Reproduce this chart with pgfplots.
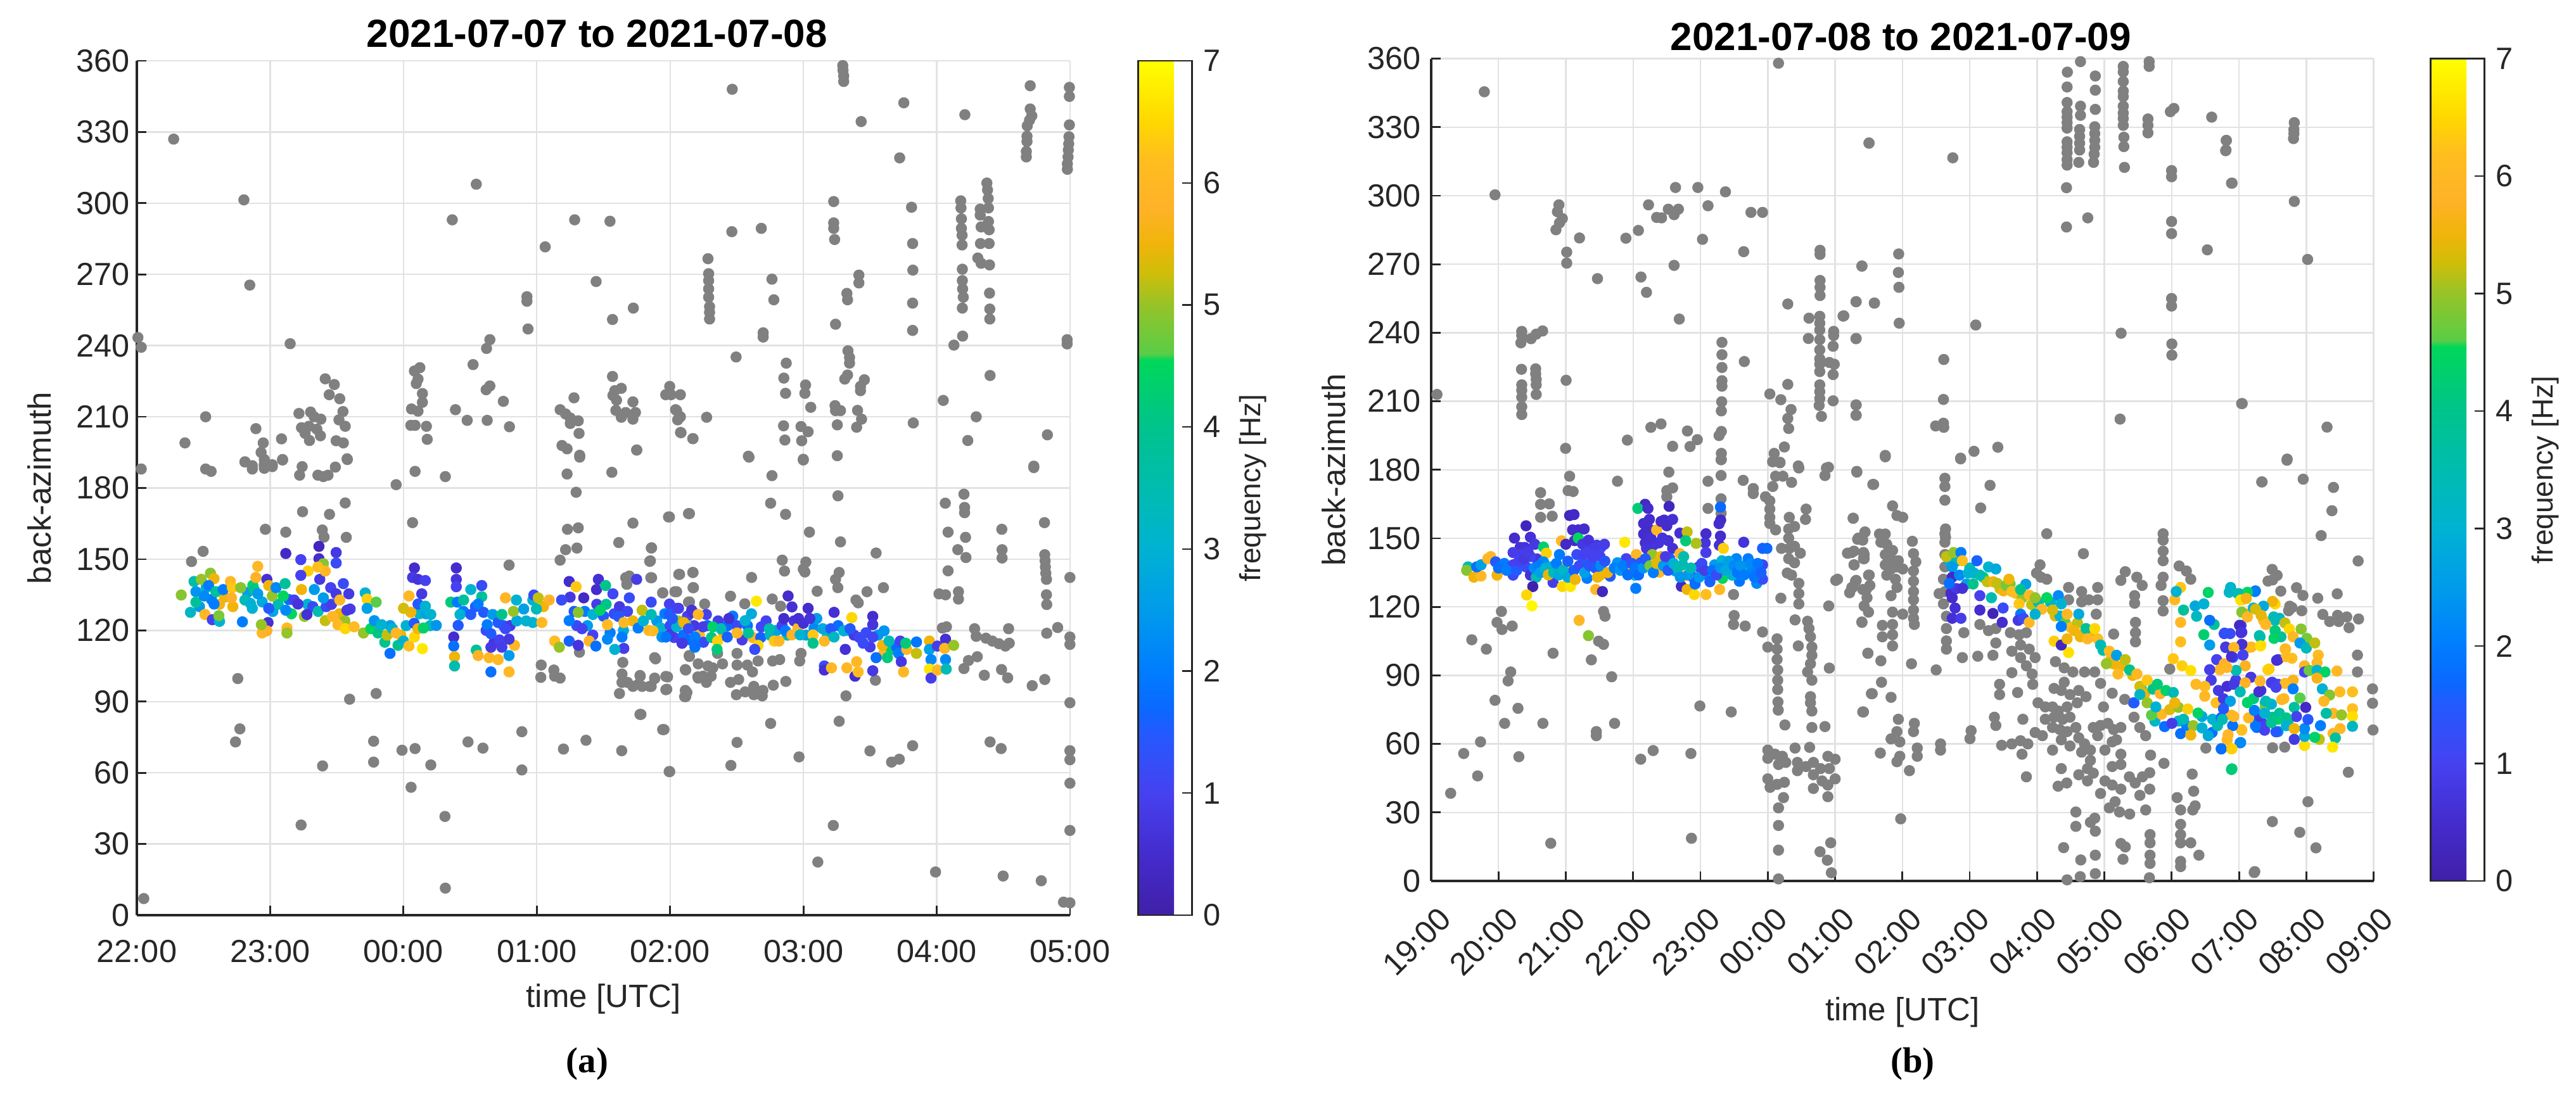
\documentclass[border=0pt]{standalone}
\usepackage{fontspec}
\setmainfont{Liberation Sans}
\newfontfamily\serifbold[BoldFont={Liberation Serif Bold}]{Liberation Serif}
\usepackage{pgfplots}
\pgfplotsset{compat=1.18}
\definecolor{axgray}{RGB}{38,38,38}
\definecolor{gridgray}{RGB}{226,226,226}
\definecolor{dotgray}{RGB}{128,128,128}

% 1 px of the reference = 0.25pt
\pgfplotsset{
  freqmap/.style={colormap={freq}{
    rgb255(0cm)=(64,32,168); rgb255(0.5cm)=(68,44,205); rgb255(1cm)=(70,65,240);
    rgb255(1.5cm)=(35,90,255); rgb255(1.7cm)=(10,105,255); rgb255(2cm)=(0,125,255);
    rgb255(2.5cm)=(0,155,235); rgb255(3cm)=(0,178,210); rgb255(3.5cm)=(0,188,175);
    rgb255(4cm)=(0,195,140); rgb255(4.55cm)=(0,215,90); rgb255(4.6cm)=(90,205,70);
    rgb255(5cm)=(150,195,40); rgb255(5.25cm)=(205,190,10); rgb255(5.5cm)=(240,180,10);
    rgb255(5.8cm)=(255,178,40); rgb255(6.2cm)=(255,190,30); rgb255(6.5cm)=(255,215,0);
    rgb255(7cm)=(255,255,0)}},
  panel/.style={
    scale only axis, clip=false, freqmap,
    point meta min=0, point meta max=7,
    axis lines*=left, ymin=0, ymax=360, ytick={0,30,...,360},
    grid=major, major grid style={gridgray, line width=0.6pt},
    tick align=inside, major tick length=3.75pt,
    tick style={axgray, line width=0.7pt},
    axis line style={axgray, line width=0.8pt},
    tick label style={font=\fontsize{12.6}{15}\selectfont, text=axgray},
    /pgf/number format/assume math mode=true,
    yticklabel style={inner sep=0pt, anchor=east},
    ylabel={back-azimuth}, xlabel={time [UTC]},
    label style={font=\fontsize{12.75}{15}\selectfont, text=axgray},
    y label style={at={(axis description cs:0,0.5)}, anchor=center, yshift=38.5pt},
    x label style={at={(axis description cs:0.5,0)}, anchor=base},
    title style={font=\fontsize{15.5}{18}\selectfont\bfseries, at={(axis description cs:0.5,1)}, anchor=base},
    colorbar,
  },
  fbar/.style={
    anchor=north west, at={(parent axis.north east)},
    width=21.25pt, scale only axis,
    ytick={0,...,7}, ytick pos=right, tick align=inside, major tick length=3.75pt,
    tick style={axgray, line width=0.6pt},
    axis line style={axgray, line width=0.7pt},
    /pgf/number format/assume math mode=true,
    yticklabel style={font=\fontsize{12.2}{15}\selectfont, text=axgray, inner sep=0pt, anchor=west, xshift=4.5pt},
    ylabel={frequency [Hz]},
    y label style={font=\fontsize{11.5}{14}\selectfont, text=axgray, at={(axis description cs:1,0.5)}, anchor=center, yshift=-24pt},
  },
  grayd/.style={only marks, mark=*, mark size=2pt, mark options={draw=dotgray, fill=dotgray}},
  freqd/.style={scatter, only marks, mark=*, mark size=2pt, scatter src=explicit,
    scatter/use mapped color={draw=mapped color, fill=mapped color}},
}

\begin{document}
\begin{tikzpicture}
\useasboundingbox (0,0) rectangle (1016.5pt,434.75pt);

% panel a
\begin{axis}[panel, at={(54pt,73.5pt)}, anchor=south west,
    width=368.25pt, height=337.25pt, xmin=0, xmax=7,
    xtick={0,...,7}, xticklabels={22:00,23:00,00:00,01:00,02:00,03:00,04:00,05:00},
    xticklabel style={anchor=base, yshift=-18.5pt},
    yticklabel style={xshift=-2.75pt},
    x label style={yshift=-36.25pt},
    title={2021-07-07 to 2021-07-08},
    title style={xshift=-2.5pt, yshift=-0.5pt},
    colorbar style={fbar, height=337.25pt, xshift=18.25pt},
]
\addplot[grayd] coordinates {
(.276,327)(.803,301.4)(.847,265.5)(2.546,308)(2.366,293)(3.284,293)(3.549,292.4)(3.063,281.6)(3.445,267)(2.926,260.6)(2.926,258.7)(3.724,255.8)(3.568,251)(2.934,247)(.008,243.4)(.033,239.3)(1.15,240.8)(2.648,242.5)(2.623,238.8)(2.522,232)
(1.413,226)(1.481,223.6)(1.443,219.3)(1.522,217.6)(1.546,212.2)(1.516,208.7)(1.563,206)(1.495,199.9)(1.549,199)(1.577,192.3)
(2.123,230.7)(2.082,229.3)(2.109,225.9)(2.096,224)(2.142,219.8)(2.142,216.1)(2.06,213.3)(2.109,212.4)(2.055,206.4)(2.087,206.4)(2.172,206)(2.178,200.5)
(.516,210)(.361,199)(.893,205)(.948,199)(1.085,200.7)(.932,195)(.811,191)(.866,189.4)(.956,192)(.956,189.4)(1.016,189.8)(1.093,192)
(1.216,211.4)(1.303,212)(1.33,210)(1.38,209)(1.235,205.4)(1.29,206)(1.35,204.8)(1.262,203)(1.377,202)(1.295,200)
(2.39,213)(2.478,208.5)(2.628,208.5)(2.749,216.5)(2.795,205.8)(2.62,221.4)(2.648,223)
(3.279,218)(3.175,213)(3.216,211.2)(3.251,209.5)(3.251,207.2)(3.311,208.3)(3.317,203)(3.189,197.9)(3.227,196.5)(3.322,193.8)
(3.568,227)(3.585,221)(3.634,222)(3.571,219)(3.598,217)(3.721,216.3)(3.593,212.7)(3.667,211.8)(3.74,211.8)(3.634,209.8)(3.721,209)(3.749,196)
(3.997,222.8)(3.967,219.3)(4.008,219.3)(4.077,219.3)(4.049,212.6)(4.077,210)(4.057,208.7)(4.082,203.3)(4.172,200.8)
(4.466,348)(5.295,358)(5.297,356)(5.302,353.6)(5.302,351.3)(5.753,342.3)(5.433,334.4)(5.722,319.1)(6.701,349.5)(6.211,337.3)
(6.995,348.8)(6.995,345)(6.995,333)(6.992,328)(6.99,325)(6.987,322.4)(6.985,319.5)(6.98,316.6)(6.98,314.3)
(6.701,339.7)(6.713,336.8)(6.696,335)(6.679,332.6)(6.677,328.2)(6.677,326)(6.672,321.8)(6.672,319.5)
(5.227,300.7)(5.811,298.3)(4.684,289.4)(4.463,288)(5.227,291.7)(5.227,289.4)(5.234,284.7)(5.819,283)(5.821,271.8)(5.819,257.9)(5.819,246.4)
(4.284,276.6)(4.289,270.3)(4.289,267.4)(4.289,263.9)(4.289,260.4)(4.296,256.4)(4.296,254)(4.296,251.2)
(4.764,268)(4.778,259.3)(4.698,245.4)(4.698,243.6)(5.241,249)(5.416,269.7)(5.416,266.4)(5.326,262)(5.331,259.3)
(6.18,301)(6.182,298)(6.185,293.4)(6.185,289.4)(6.19,286.5)(6.19,282.4)
(6.376,308.5)(6.381,305.6)(6.386,302)(6.388,298)(6.326,297.5)(6.326,295)(6.333,290)(6.388,292.3)(6.393,288.8)(6.328,283)(6.393,283)
(6.308,276.9)(6.333,274.7)(6.396,274)(6.192,272.2)(6.192,267.4)(6.194,263.9)(6.199,260.4)(6.192,255.8)(6.396,262.1)(6.398,255.4)(6.398,251.2)
(6.194,244)(6.129,240.2)(6.978,242.5)(6.978,240.7)
(4.495,235.2)(4.871,232.6)(4.853,226.3)(4.866,219.9)(5.016,223.4)(5.011,219.9)(5.055,214)
(5.334,237.8)(5.346,235)(5.346,232.6)(5.331,227.6)(5.31,225.9)(5.457,225.6)(5.428,222.8)(5.428,221)(6.4,227.4)(6.049,216.9)(6.296,210)
(5.237,214.7)(5.241,212.6)(5.278,212.6)(5.406,212.7)(5.436,209)(5.399,205.6)(5.254,206.6)
(4.851,206.2)(4.861,200.2)(4.982,205.9)(5.035,203.7)(4.987,199.9)(5.824,207.4)(6.83,202.4)(6.233,200)(4.587,193.4)(4.999,192.1)(5.254,193.6)(4.078,203.4)(4.17,200.8)(4.274,209.8)(4.041,213)(3.75,196)(6.728,189.2)
(.033,188)(.516,188)(.557,187)(.811,191)(.866,188)(.956,190)(.956,188.3)(1.016,189)(1.093,191.8)
(1.221,185.4)(1.24,189)(1.358,185.4)(1.399,184.8)(1.434,185.4)(1.489,188.8)(1.579,192)
(2.087,187)(2.314,184.8)(1.945,181.4)(2.068,165.4)(1.563,173.7)(1.445,168.9)(1.243,170)(.964,162.6)(1.117,161.4)(1.391,162.3)(1.404,159.3)(1.571,159.2)(.497,153.3)(.41,149)
(3.227,185.9)(3.322,193)(3.563,186.6)(3.295,178.2)(3.23,162.6)(3.311,163.2)(3.216,154)(3.301,154.7)(3.175,149.6)(2.792,147.5)
(3.721,165.2)(3.615,157)(3.995,167.8)(4.145,169.2)(3.861,154.8)(3.852,149.3)(3.861,142.2)(3.667,142.2)(3.694,142.9)(3.675,139.4)(4.071,143.6)(4.172,144.4)(3.945,135.8)(4.049,136.3)(4.172,138)(4.145,132)
(.757,99.7)(.773,78.5)(.74,73)(1.596,91)(1.795,93.4)(1.776,73.3)(1.776,64.5)(1.393,62.9)(1.989,69.5)(2.087,70.2)(2.205,63.3)(2.057,53.9)(2.311,41.6)(2.314,11.4)(1.232,38)(.052,7)
(2.484,73)(2.596,70.4)(2.888,77.3)(2.888,61.2)(3.2,70)(3.369,73.7)(3.637,69.3)(3.781,84.6)(3.954,78.2)(3.997,60.5)
(3.033,105.4)(3.03,100.2)(3.128,103.3)(3.134,100.7)(3.175,99.9)(3.32,110.8)(3.645,106.5)(3.891,108)(3.639,101.6)(3.68,98.1)(3.639,98.1)(3.721,96.4)(3.776,100.7)(3.79,96.4)(3.885,99.7)(3.858,96.4)(3.62,93.4)(3.981,100.4)(3.975,95.2)(4.117,103.3)(4.117,92.1)(4.126,93.8)(4.145,109)(4.208,100.4)
(6.728,188.6)(4.592,193)(4.999,191.8)(4.764,185.2)(4.754,173.6)(4.866,168.9)(5.259,176.7)(5.278,157.3)(5.045,161.4)(6.064,173.6)
(6.204,177.4)(6.209,171.8)(6.209,169.6)(6.085,161.4)(6.216,159.2)(6.158,154)(6.219,150.7)(6.085,145.1)
(6.488,162.6)(6.49,154)(6.49,150.5)(6.808,165.4)(6.81,151.9)(6.813,149.3)(6.815,146.7)(6.818,144.1)(6.823,141.5)(6.823,135)(6.825,130.9)(6.999,142.3)
(5.545,152.6)(5.6,138)(5.477,136.3)(5.394,132.8)(5.411,131.6)(5.268,144.4)(5.241,141.5)(5.258,138)(5.103,136.5)(5.018,148.8)(4.999,145.8)(5.011,144.6)(4.858,145)(4.841,149.6)
(4.611,142.3)(4.453,134.4)(4.56,131.2)(4.766,133.2)(4.829,130.2)(3.944,135.8)(4.036,136.3)(4.065,143.6)(4.17,144.4)(4.175,138)(3.855,142.2)(3.859,154.7)(3.847,149.1)(3.988,167.8)(4.138,169.2)
(4.138,131.9)(4.259,131.1)(6.017,135.4)(6.066,135)(6.163,136.3)(6.163,133.2)(6.042,121)(6.073,121.5)
(6.284,120.7)(6.296,117.5)(6.369,116.7)(6.417,115.5)(6.466,114.4)(6.515,113.4)(6.544,114.6)(6.539,120.7)(6.825,118.8)(6.907,121.2)(6.999,117.2)(6.999,114.1)(6.999,89.5)(6.999,69.3)(6.999,65.5)(6.999,55.6)(6.999,35.7)(6.951,5.5)(6.999,5.2)
(3.884,108.5)(4.143,109.4)(4.211,105.9)(4.114,103.5)(3.968,100.6)(3.968,95)(4.114,94.7)(4.109,92.1)(3.847,96.4)(3.884,99.9)(3.774,101)(3.762,97.3)(3.774,84.6)(3.944,78.2)(3.993,60.5)
(4.284,105)(4.32,104.2)(4.247,100.7)(4.308,100.7)(4.272,98.1)(4.211,99.9)(4.356,110.3)(4.393,105.9)(4.502,110.3)(4.502,105.4)(4.453,98.1)(4.514,99.3)(4.497,92.9)(4.563,94.1)(4.628,96.4)(4.628,92.9)(4.696,94.7)(4.691,92.4)(4.579,105.4)(4.66,107.1)(4.618,102.5)(4.769,107.1)(4.822,107.7)(4.774,96.9)(4.868,98.5)(4.982,110.3)(4.972,107.1)
(5.319,92.4)(5.54,99)(6.204,103.9)(6.238,107.3)(6.304,108.9)(6.357,101.1)(6.486,103.5)(6.532,100)(6.716,96.7)(6.81,99.3)
(5.268,81.7)(4.754,80.8)(4.502,72.8)(4.456,63.1)(4.967,66.7)(5.499,69.2)(5.661,64.5)(5.719,65.7)(5.819,71.4)(6.4,73)(6.483,70.2)(5.224,37.8)(5.108,22.4)(5.991,18.2)(6.498,16.5)(6.784,14.5)
};
\addplot[freqd] coordinates {
(.47,130)[2.5](.52,138)[3](.56,133)[2](.62,131)[5.6](.66,134)[5.5](.72,130)[5.5](.83,136)[2.6](.87,139)[4.4](.94,132)[2.8](1.02,128)[2.7](1.06,131)[3.5](1.14,133)[1.8](1.16,127)[4.5](1.28,131)[3](1.32,130)[1.2](1.36,128)[3.5](1.42,130)[1.2](1.46,131)[.9](1.52,127)[5.5](1.56,124)[5](1.6,129)[.9](1.78,122)[3](1.86,115)[4](1.9,122)[2.5](1.98,118)[5.5](2.02,122)[3](2.08,123)[1.5](2.12,127)[3.2](2.17,127)[2.6](2.2,122)[3.2]
(2.45,128)[2](2.54,130)[1.5](2.62,120)[1.2](2.68,115)[.7](2.72,116)[1](2.75,122)[1.5](2.8,122)[.8](2.85,124)[2.8](2.92,124)[3](3.05,130)[5.5]
(3.25,134)[.8](3.28,128)[1.5](3.3,122)[1.2](3.36,128)[2](3.38,122)[2.5](3.42,118)[1](3.45,131)[.9](3.5,126)[1.5](3.52,131)[4](3.55,119)[2](3.58,127)[1.2](3.62,130)[.8](3.65,120)[2.8](3.68,128)[1.1](3.72,124)[5.5](3.76,121)[2](3.8,124)[3](3.84,120)[6](3.9,124)[2.5](3.93,121)[3](3.96,127)[2](4.0,122)[1.2](4.03,117)[1](4.06,124)[5](4.1,118)[1.8](4.13,126)[1](4.15,116)[1.7](4.18,122)[.8](4.22,118)[6](4.25,115)[1.2](4.28,122)[1.7](4.31,117)[4](4.36,124)[.9](4.4,119)[5.5](4.43,122)[1.7](4.47,126)[2](4.5,122)[1.2](4.54,116)[.9](4.58,122)[1.8](4.61,127)[2.8](4.62,117)[5.8](4.68,117)[1.6](4.72,124)[1](4.75,118)[3.2](4.8,120)[2.7](4.84,122)[1](4.88,118)[3.6](4.93,124)[.7](4.96,121)[6](5.0,123)[.6](5.02,118)[2.6](5.08,121)[2.2](5.1,125)[2.5](5.18,118)[3.2](5.26,122)[1.8](5.33,120)[3](5.38,118)[.8](5.42,117)[1.1](5.47,119)[1.2](5.5,113)[.9](5.56,118)[2.4](5.6,110)[6](5.66,112)[4.2](5.7,113)[1.7]
};
\addplot[freqd] coordinates {
(.333,134.9)[4.9](.402,127.6)[3.2](.429,140.6)[3.6](.443,136.3)[2.4](.443,131.9)[3.8](.484,141.5)[5](.511,126.7)[6](.566,124.5)[1](.62,123.8)[3](.615,126.2)[4.8](.552,144.1)[4.9](.579,141.8)[5.5](.538,138.9)[2](.593,136.3)[3.8](.579,131.1)[2](.505,134.5)[2.2](.648,137.2)[2](.702,140.6)[6](.716,138)[6.3](.71,133.7)[5.8](.779,138)[4.9](.792,123.6)[2]
(.811,132.8)[3.4](.852,131.4)[3](.88,137.2)[4](.893,142.3)[5.8](.907,147)[6](.866,129.3)[3](.907,135.4)[2.5](.975,141.5)[.6](.989,138.9)[5.5](1.016,134.5)[5](.989,129.3)[1.5](.984,123.3)[.6](.94,118.9)[6](.975,119.8)[5.8](.934,122.4)[5](1.044,138)[2.2](1.112,139.7)[3.8](1.098,134.5)[4.5](1.126,121)[6](1.126,118.9)[5](1.117,128.5)[2.2](1.117,152.4)[.4]
(1.23,149.8)[1](1.18,132.8)[1](1.208,131.1)[.7](1.235,137.2)[5.5](1.284,145)[6.4](1.23,143.2)[1](1.257,125.9)[5](1.276,126.7)[.6](1.331,137.2)[2.5](1.372,141.5)[.8](1.366,150.2)[.5](1.366,155.4)[.3](1.399,148.1)[4.9](1.413,145)[5.9](1.358,146.7)[6.2](1.495,152.8)[.8](1.495,148.4)[1.2](1.399,133.7)[2.5](1.454,138)[1](1.549,139.7)[1.2](1.495,135.4)[.8](1.522,132.8)[6](1.576,128.5)[.8](1.59,135.4)[.8]
(1.413,124.1)[5.2](1.467,125.9)[6](1.508,122.4)[6](1.563,120.7)[6.5](1.63,121.5)[6.1](1.713,135.8)[3](1.727,133.2)[6.4](1.795,131.9)[4.6](1.727,129.3)[2.6](1.70,118.9)[5](1.754,120.7)[4.5](1.781,124.1)[2.4](1.809,118.9)[4](1.836,122.4)[3](1.877,118)[5.2](1.918,120.7)[3](1.899,110.3)[1.8](1.945,118.9)[6](1.959,113.7)[4](2,115.5)[3](2.041,113.4)[6.2](2.082,117.2)[6.5](2.142,112.3)[6.7](2.109,120.7)[5.5](2.15,121)[4.4](2.246,122.1)[2.4](2.205,126.7)[3](2.055,127.6)[5.5](2,129.3)[5.3]
(2.082,146.3)[.5](2.068,142.3)[.8](2.109,141.5)[.7](2.164,141)[1](2.137,135.4)[.8](2.041,134.5)[6](2.109,131.1)[1.5](2.164,130.2)[3]
(2.396,146.3)[.5](2.396,141.5)[.7](2.396,138.4)[1](2.355,131.9)[4.2](2.404,131.9)[2](2.451,132.8)[3.8](2.424,126.7)[3](2.41,122.1)[1.5](2.377,117.2)[.5](2.377,113.4)[1.8](2.383,108.9)[5.5](2.383,105)[3.5](2.505,137.2)[3](2.587,138.9)[1.2](2.587,134.2)[3.8](2.505,126.7)[1.5](2.56,131.1)[2](2.601,127.6)[1.5](2.669,126.7)[2.5](2.628,122.4)[2](2.71,123.3)[1.5](2.738,126.7)[4](2.765,133.7)[5.9](2.825,128)[5](2.847,132.8)[3](2.902,129)[2.6](2.97,132.8)[3](2.978,134.9)[1.2](2.997,129)[3.4](2.97,123.3)[3](3.038,123.3)[6](3.011,133.7)[5.2](3.093,132.8)[5.8]
(2.546,111.7)[3.8](2.56,109.4)[5.8](2.642,108.5)[6](2.656,102.5)[1.8](2.71,107.7)[6](2.792,102.5)[6](2.792,109.4)[2.5](2.833,113.7)[6](2.656,112.9)[.8](2.738,112.9)[.9](2.765,120.7)[1.2](2.792,116.3)[.8](2.656,118.6)[1.5](3.134,115.5)[6.2](3.169,112.9)[5]
(3.243,140.6)[.5](3.186,132.8)[1.2](3.295,138.4)[6.3](3.352,133.7)[.4](3.462,141.5)[.6](3.448,137.2)[.5](3.516,138.9)[4](3.571,135.4)[1.1](3.749,141.5)[.9](3.694,133.7)[1.2](3.243,124.1)[2](3.311,127.6)[4.9](3.339,120.7)[1](3.421,126.7)[3](3.475,128.5)[4.4](3.53,122.4)[6.1](3.243,115.5)[1.6](3.311,113.7)[.7](3.393,115.5)[5.9](3.443,113.4)[1.8](3.53,116.3)[2.2](3.639,117.2)[2](3.653,112.4)[.9](3.585,112)[3](3.612,125.9)[1.5](3.653,123.3)[6](3.79,128.5)[5.2](3.858,131.9)[1.2](3.858,126.7)[3.4](3.871,119.8)[6.1](3.939,117.2)[2.4](3.995,131.1)[1](3.995,126.7)[1.6](3.995,118.1)[.8](4.063,129.3)[.8](4.09,114.6)[.9](4.186,112.9)[2](4.172,127.6)[.5](4.117,122.4)[4.6](4.049,121.5)[3]
(4.053,129.3)[1](4.017,125)[1.5](3.968,117.2)[1.9](4.162,128.5)[.7](4.272,126.7)[1](4.102,123.3)[5.5](4.211,126.7)[6](4.138,120.7)[1.2](4.09,114.6)[.8](4.187,117.2)[2](4.187,113.7)[1.8](4.247,121.5)[.9](4.32,121.5)[4.4](4.356,115.5)[6.4](4.352,112)[4.2](4.381,120.7)[3.5](4.441,125)[.6](4.429,117.2)[1.6](4.502,118.9)[6](4.563,124.1)[3](4.587,118.9)[3.8](4.66,113.7)[6.5](4.635,112)[1.2](4.684,121.5)[1.1](4.744,120.7)[3.5](4.781,115.5)[6.3](4.817,115.5)[6](4.853,125)[.5](4.885,134.5)[.5](4.914,129.9)[.6](4.647,132.3)[6.7](4.866,119.8)[2](4.914,118.1)[5.8](4.963,125)[.6](4.975,118.1)[3](5.035,129.3)[.5](5.048,125)[.7](5.072,118.1)[6.3](5.072,114.6)[4](5.157,115.5)[6](5.145,120.7)[2.8](5.205,120.7)[1.5](5.23,117.2)[3.2](5.23,127.6)[.6]
(5.157,105)[1.2](5.157,103.3)[.6](5.21,104.2)[6](5.326,104.2)[6](5.302,119.8)[3](5.314,112)[.6](5.363,125.4)[6.5](5.35,120.7)[1.5](5.399,106.8)[6](5.387,100.7)[.5](5.411,102.5)[6.1](5.448,114.6)[1.2](5.52,125.9)[.5](5.52,122.4)[.7](5.52,117.2)[1.1](5.545,108.5)[1.8](5.52,103)[.8](5.593,113.7)[5.5](5.605,119.8)[2.4](5.642,115.5)[3.4](5.63,108.5)[4.2](5.726,115.5)[1](5.714,110.3)[2](5.734,106.8)[.8](5.751,102.5)[6](5.775,112)[5.9](5.768,114.6)[4.2](5.848,115.1)[1.9](5.848,110.3)[5.2](5.945,115.5)[5.5](5.945,112)[2.6](5.957,107.7)[2.2](5.945,103.7)[6.7](5.957,99.9)[.9](6.005,103.3)[6](6.005,113.4)[.9](6.066,116.3)[.6](6.059,112.4)[6](6.066,107.7)[2.2](6.071,103.7)[3.4](6.127,113.7)[5]
};
\end{axis}

% panel b
\begin{axis}[panel, at={(564.75pt,87pt)}, anchor=south west,
    width=371.9pt, height=324.6pt, xmin=0, xmax=14,
    xtick={0,...,14}, xticklabels={19:00,20:00,21:00,22:00,23:00,00:00,01:00,02:00,03:00,04:00,05:00,06:00,07:00,08:00,09:00},
    xticklabel style={xshift=-5.75pt, yshift=-24pt, rotate=45, anchor=center},
    yticklabel style={xshift=-4pt},
    x label style={yshift=-55pt},
    title={2021-07-08 to 2021-07-09},
    title style={xshift=-0.6pt, yshift=-2.6pt},
    colorbar style={fbar, height=324.6pt, xshift=13.85pt},
]
\addplot[grayd] coordinates {
(.789,345.5)(.948,300.4)(5.159,358)(6.504,323)(3.629,303.6)(3.961,303.6)(4.371,301.7)(3.228,296)(3.522,294.1)(3.672,294.1)(3.608,291.7)(3.349,290.5)(3.422,290.3)(4.112,295.6)(4.75,292.7)(4.922,292.7)
(1.897,296)(1.875,293)(1.948,290)(1.905,288.1)(1.853,285.1)(2.203,281.5)(2.013,275.3)(2.013,270.5)(2.47,263.7)(2.892,281.4)(3.078,284.8)(4.03,280.9)(4.642,275.5)(3.608,269.5)(3.116,264.4)(3.198,257.7)(3.685,246)
(5.776,276.1)(5.776,274.3)(5.776,262.9)(5.776,259.9)(5.776,256.3)(5.297,252.6)(6.397,269.2)(6.31,253.6)(6.582,253)(5.612,246.4)(5.772,247.2)(5.772,244.2)(5.772,241.2)(6.129,247.4)(5.978,240.6)(5.978,238.8)(5.97,234.1)(5.603,237.5)(5.772,237)(5.772,232.5)(6.31,237.4)
(5.772,228.6)(5.772,226.2)(5.772,223)(5.914,227)(5.987,226.2)(5.97,221.7)(5.772,217.2)(5.772,214.2)(5.772,211.2)(5.763,208.2)(5.97,210.2)(5.797,203.4)(6.31,208.4)(6.31,203.9)
(1.345,240.6)(1.345,238.8)(1.332,235.6)(1.483,237.4)(1.56,239.4)(1.655,240.8)(1.341,224)(1.552,224.2)(1.552,222)(1.56,219.6)(1.56,217.2)(1.56,213)(1.345,217.2)(1.345,214.8)(1.345,211.8)(1.345,207.6)(1.345,204.2)(.086,213)(2.004,219.2)(1.996,189.4)
(4.319,235.8)(4.319,230.4)(4.319,224.8)(4.319,219)(4.319,216.6)(4.315,209.8)(4.31,205.8)(4.31,196.8)(4.276,195)(4.31,187.2)(4.31,184.5)(4.651,227.4)(5.03,213.2)(5.194,210.7)(5.297,217.4)(5.345,206.4)(5.297,202.5)(5.31,198.1)(5.246,190)(5.095,187.2)(5.073,183.6)(5.181,183.3)
(3.263,198.6)(3.414,200.1)(2.914,193)(3.806,197)(3.953,193.2)(3.845,190.2)(3.586,190.3)(5.453,181.7)(5.901,181.1)
(6.503,323.1)(7.748,316.6)(6.399,269.2)(6.944,274.5)(6.94,266.4)(6.948,259.9)(6.313,253.6)(6.585,253)(6.118,247.3)(6.952,244.2)(6.313,237.5)(7.614,228.3)(8.089,243.4)(7.609,210.8)(6.313,208.4)(6.313,203.9)(7.493,199.2)(7.609,200.4)(7.614,198.6)(6.745,186.3)(7.864,185.1)(8.063,188.1)(8.417,189.9)
(9.645,358.7)(9.45,354.1)(9.446,347.6)(9.446,340.8)(9.446,336.8)(9.446,334.4)(9.446,332)(9.446,329.6)(9.446,323.6)(9.446,321.2)(9.446,318.8)(9.446,315.8)(9.446,313.4)(9.437,303.5)(9.437,286.3)(9.753,290.3)
(9.645,339.2)(9.645,335.2)(9.632,329)(9.632,326)(9.632,323)(9.632,320)(9.619,314.6)(9.865,352.4)(9.865,346.2)(9.865,337.8)(9.857,330.2)(9.857,327.2)(9.857,324.2)(9.857,321.2)(9.848,318.2)(9.839,314.6)
(10.28,356.6)(10.28,354.2)(10.28,350)(10.28,345.8)(10.28,343.4)(10.28,339.2)(10.28,336.2)(10.28,333.8)(10.28,330.8)(10.289,325.6)(10.289,321.5)(10.298,312.4)
(10.665,358.7)(10.665,356.6)(10.647,333.6)(10.647,330.8)(10.647,327.5)(11.032,338.2)(10.98,336.8)(10.998,311)(10.998,308.3)(10.998,288.7)(10.998,283.4)(10.998,255)(10.998,251.7)(11.002,235.1)(11.002,230.2)
(11.594,334.4)(11.81,324.2)(11.801,319.7)(11.888,305.5)(11.529,276.3)(10.248,239.8)(12.039,209)(10.233,202.2)
(11.812,324.2)(11.806,320)(11.897,305.5)(12.821,332)(12.815,329)(12.815,327.2)(12.809,325)(12.821,297.5)(13.019,272.1)(12.047,209)(13.307,198.7)(12.715,184.7)
(2.056,177.2)(2.034,170.9)(2.108,170.5)(2.767,175)(1.625,170)(1.625,164.9)(1.754,165.1)(1.625,159.2)(1.797,159.7)
(3.53,179)(3.5,170.9)(3.586,172.1)(3.5,168.2)(4.306,184.4)(4.306,177.5)(4.112,175)(4.634,175.4)(4.784,171.8)(4.784,169.6)(4.112,163.1)(4.306,167.3)(4.306,161)
(4.966,168.2)(5.03,166.4)(5.03,162.8)(5.03,159.2)(5.03,156.5)(5.116,153.7)(5.073,183.5)(5.181,183.1)(5.116,177.2)(5.224,177.2)(5.073,172.7)(5.353,174.5)(5.461,180.8)(5.871,180.8)(5.849,177.5)(6.323,179)(6.56,173.6)
(5.569,162.8)(5.56,158.3)(5.319,159.2)(5.31,154.1)(5.397,155.2)(5.31,150.1)(5.319,145.6)(5.397,146.5)(5.483,143.5)(5.203,145.6)(5.31,141.1)(5.397,139.3)(5.289,134.8)(5.353,133.9)(5.461,130.3)(5.461,125.8)(5.461,121.3)(5.194,123.8)(6.009,131.6)(5.905,120.4)
(6.267,158.8)(6.444,152.7)(6.345,150.1)(6.41,149.2)(6.194,143.5)(6.28,144.4)(6.431,142.9)(6.431,141.1)(6.28,138.4)(6.496,133.9)(6.302,131.2)(6.259,128.5)(6.216,126.2)(6.41,127.6)(6.517,129.4)(6.474,124)(6.431,120.4)(6.496,117.7)(6.397,113.4)(6.487,99.7)(6.539,82)(6.41,74)(5.914,93.2)
(1.043,118)(.978,113.2)(1.052,110.1)(1.203,111.6)(.603,105.6)(.819,101.5)(1.81,99.7)(1.181,91.5)(1.142,87.6)(.948,79.1)(1.289,75.6)(1.091,69)(1.659,69)(.733,60.9)(.483,55.8)(1.302,54.4)(.69,46)(.289,38.4)(1.776,16.5)
(2.56,118)(2.582,115.9)(2.487,105)(2.56,103.6)(2.379,96.8)(2.681,89.4)(2.724,69)(2.453,65.4)(2.453,63.6)(3.112,53.3)(3.297,57.1)(3.858,55.8)(3.866,18.7)(3.991,76.6)(4.457,74)
(4.491,125.4)(4.5,116.2)(4.491,112.3)(4.664,111.6)(4.922,109)
(5,102.4)(5.138,106)(5.138,101.5)(5.138,97)(5.147,92.4)(5.147,87.9)(5.147,83.8)(5.151,78.4)(5.155,74.8)(5.254,68.3)(5.405,114.3)(5.453,102.9)
(5.591,113.7)(5.612,110.5)(5.634,106.9)(5.655,102.4)(5.655,98.8)(5.634,95.1)(5.591,91.5)(5.655,87.9)(5.634,80.7)(5.634,78)(5.655,74.4)(5.655,67.2)(5.849,67.6)(5.621,58.5)(5.405,58.2)
(5,57.3)(5,53.7)(5.108,55.5)(5.216,54.6)(5.159,51)(5.267,51.9)(5.246,43.2)(5.138,42.3)(5,44.7)(5.034,41)(5.233,36.5)(5.159,32)(5.159,24.3)(5.159,13.5)(5.159,.9)
(5.44,51.9)(5.44,48.3)(5.569,50.1)(5.677,51.9)(5.677,46.5)(5.784,49.2)(5.677,40.5)(5.806,43.8)(5.892,54.6)(6,53.3)(5.914,49.2)(6,44.7)(5.892,42)(5.892,36.9)(5.935,16.7)(5.776,12.8)(5.884,9.1)(5.944,3.6)
(6.321,179.3)(6.572,173.6)(6.745,185.7)(7.864,184.8)(8.301,173.2)(8.162,163.3)(7.631,176.3)(7.631,172.7)(7.631,166.7)(7.64,154.1)(7.64,150.5)(6.853,164.2)(6.918,160)(7.004,159.2)(6.27,158.8)
(6.443,152.8)(6.334,149.6)(6.421,143.8)(6.421,141.1)(6.248,143.8)(6.183,143.5)(6.283,138.4)(6.036,132.1)(6.507,133.9)(6.313,131.6)(6.248,128.5)(6.464,127.6)(6.399,113.2)(6.486,99.7)(6.68,96.4)(6.689,87)(6.551,82)(6.831,80.4)(6.421,74)(7.134,95.1)(7.501,92.4)
(6.659,151.9)(6.745,151.9)(6.68,148.3)(6.767,147.4)(6.853,144.7)(6.745,142.9)(6.831,141.1)(6.939,140.2)(6.745,138.4)(6.831,136.6)(6.918,137.5)(7.004,136.6)(6.767,133.9)(6.896,132.1)(6.918,128.5)(6.831,124.9)(6.853,117.7)(7.004,116.8)(6.702,111.9)(6.853,112.3)(6.702,106.9)(6.853,107.8)(6.853,102.9)
(7.147,148.7)(7.164,143.3)(7.199,139.7)(7.164,135.7)(7.164,131.2)(7.164,126.7)(7.164,123.1)(7.164,118.6)(7.164,115)(7.177,112.3)
(7.631,152)(7.631,148.3)(7.631,142.9)(7.631,137.5)(7.609,132.1)(7.631,126.7)(7.609,121.3)(7.653,115.9)(7.653,110.5)(7.653,105.1)(7.653,101.5)(7.545,125.8)
(7.89,97.8)(8.119,98.4)(8.344,98.8)(7.912,108.7)(8.15,112.3)(8.387,110.5)(8.279,109.6)(8.387,104.2)(8.603,108.7)(8.733,107.8)(8.841,108.7)(8.625,100.6)
(8.755,103.3)(8.884,101.5)(8.755,97.8)(8.971,97.8)(8.841,94.2)(8.927,90.6)(8.936,86.1)(8.625,91.2)
(8.443,86.1)(8.443,81.6)(8.711,82.5)(8.366,71.7)(8.387,68.1)(8.789,70.8)(8.474,59.4)(8.625,60)(8.754,61.4)(8.863,60)(8.776,55.5)(8.841,45.6)(8.02,65.8)(8.003,62.3)(7.566,60)(7.566,57.3)(6.672,56)(6.831,62.2)(6.918,65.4)(6.939,70.8)(6.961,60.9)(6.961,54.6)(6.918,52.2)(7.104,48.3)(7.177,69)(7.164,65.4)(7.22,58.2)(7.22,54.6)(6.974,27.2)
(9.044,138.4)(8.992,134.8)(9.057,133)(9.144,132.1)(9.144,152)(9.688,143.3)(9.468,128.5)(9.468,123.1)(9.662,126.7)(9.662,122.2)(9.9,128.5)(9.9,123.1)(9.879,116.8)(9.77,123.1)
(10.31,135.4)(10.245,131.6)(10.482,133)(10.561,129.4)(10.449,124.9)(10.449,121.6)(10.462,113.2)(10.462,108.7)(10.462,104.7)(10.137,108.1)(10.116,82.2)(10.302,79.5)(9.986,76.2)(9.943,86.5)
(10.872,152)(10.872,149.2)(10.872,144.4)(10.872,140.2)(10.872,133)(10.842,129.4)(10.872,122.7)(10.872,118.2)(10.971,92.8)(11.11,137.9)(11.218,135.7)(11.283,132.1)
(10.885,51.5)(10.686,55.1)(11.304,46.8)(11.326,39.3)(11.08,36.5)(11.132,31.1)(11.348,32.9)(11.313,31.1)(11.132,24.8)(11.132,20.3)(11.132,16.7)(11.283,16.7)(11.404,11.3)(11.132,8.6)(11.132,6.3)
(10.431,78)(10.44,71.7)(10.526,67.2)(10.613,63.6)(10.245,67.2)(10.181,61.8)
(9.273,96)(9.403,93.3)(9.403,87)(9.532,91.5)(9.705,91.5)(9.856,91.5)(9.252,84.3)(9.36,83.4)(9.489,81.6)(9.619,83.4)(9.727,80.7)(9.597,78)(9.014,78)(9.122,76.2)(9.23,76.2)(9.316,74.4)(9.446,76.2)(9.122,70.8)(9.252,71.7)(9.381,70.8)(9.489,71.7)(9.23,67.2)(9.338,66.3)(9.446,65.4)(9.576,67.2)(8.971,65)(9.079,63.6)(9.36,61.8)(9.619,62.7)(9.705,60)(9.489,59.1)(9.662,56.4)(9.792,57.3)(9.23,57.3)(9.792,52.8)(10.008,57.3)(9.749,49.2)(9.36,49.2)(9.619,46.5)(9.749,43.8)(9.835,47.2)(9.312,41.5)(9.441,42.9)(9.943,68.1)(9.835,67.2)(10.051,69)(10.137,66.3)(9.9,63.6)(10.116,60.9)(10.245,55.5)(10.245,51)(10.116,50.1)(10.008,43.8)(10.116,42)(10.245,40.2)(9.943,38.3)(10.371,45.6)(10.457,42.9)(10.565,45.6)(10.673,47.4)(10.527,37.5)(10.673,40.2)(10.073,32)(10.159,34.7)(10.224,30.2)(10.375,29.3)(10.613,31.1)
(9.576,30.2)(9.576,23.9)(9.857,27.5)(9.792,25.7)(9.865,21.8)(9.394,14.6)(10.245,16.4)(10.31,14.9)(10.276,9.5)(9.865,11.3)(9.649,9.2)(9.865,3.2)(9.641,1.9)(9.446,.5)
(10.678,20.3)(10.678,16.7)(10.678,11.3)(10.678,7.7)(10.669,1.4)
(11.507,58.2)(12.225,3.7)(12.337,174.7)
(12.712,184.2)(12.342,174.7)(12.953,175.9)(13.403,172.3)(13.38,162.1)(13.22,151.2)(13.769,140.1)(12.492,136.4)(12.566,133.8)(12.498,131.8)(12.431,131.3)(12.62,126.9)(12.854,128.4)(12.949,125)(13.169,123.8)(13.458,125.7)(12.753,120.3)(12.786,119.7)(12.736,118.3)(12.932,118.3)(13.244,116.7)(13.346,113.6)(13.464,116.3)(13.481,113.6)(13.6,115.6)(13.634,110.9)(13.776,114.7)(13.759,98.9)(13.759,91.5)(13.983,84.1)(13.983,77.8)(13.99,66.1)(12.498,58.3)(12.678,58.6)(13.624,47.6)(13.024,34.7)(12.495,26)(12.902,21.3)(13.142,14.5)(12.234,4.1)
};
\addplot[freqd] coordinates {
(1.32,146)[.6](1.39,146)[.7](1.57,141)[.8](2.13,149)[.5](2.38,145)[.8](2.46,147)[.8](2.52,146)[1.2](3.2,155)[.5](3.18,148)[.6](3.24,154)[.5](3.3,147)[.7](3.38,148)[.7](3.46,158)[.5](3.52,149)[.6](4.07,148)[.7](4.28,147)[.6](4.3,158)[.4]
(7.7,140)[3](7.8,140)[3.4](7.72,126)[.5](7.8,128)[.8](7.95,130)[2.6](8.0,137)[3.4](8.05,130)[4](8.2,133)[4.5](8.26,131)[5.2](8.35,131)[5.5](8.45,128)[5.3](8.5,127)[5.6](8.6,130)[4.8](8.68,126)[6](8.78,124)[5](8.92,121)[5.2](9.02,122)[3.3](9.07,119)[6](9.2,122)[3](9.27,116)[5.4](9.34,116)[3](9.42,113)[4.6](9.5,111)[6](9.6,113)[5.2](9.68,108)[5.8](9.8,108)[5.5](9.9,106)[6.1](9.98,101)[3.5](10.1,97)[5.5](10.14,95)[5.5](10.25,94)[5.5](10.42,90)[5.5](10.55,84)[4.2](10.6,82)[5.5](10.72,84)[4](10.75,70)[3.2](10.83,82)[5.8](10.85,73)[6](10.97,75)[5.4](11.1,76)[5](11.1,70)[3](11.22,68)[2](11.32,68)[5](11.45,67)[3](11.45,72)[2.8](11.6,65)[1.8](11.68,68)[3.4]
};
\addplot[freqd] coordinates {
(.547,137.5)[3.4](.526,136)[4.9](.634,133)[5.5](.741,133.5)[6](.676,137.5)[1.8](.741,138.4)[2.6](.841,141.1)[5.9](.884,142)[6](.978,133.9)[5.5](.957,139.7)[1.5](1.086,139)[2](1.237,150.1)[.5](1.216,143.8)[.9](1.216,138.4)[1](1.216,133.9)[1.2](1.323,142.9)[.9](1.409,155.5)[.3](1.474,150.5)[.6](1.539,147.4)[.8](1.474,142)[1.1](1.409,137.5)[1.2](1.474,133.9)[.6](1.56,133)[3.4](1.509,128.9)[.1](1.418,125.2)[6.5](1.496,120.4)[6.9]
(1.668,146.2)[4.3](1.711,143.5)[6.4](1.668,139.7)[2.2](1.776,137.5)[3](1.81,130.7)[.9](1.948,128.9)[6.5](2.069,128.9)[6.7](1.935,148.9)[6](2,147.4)[.4](2.056,160)[.3](2.121,160.4)[.4](2.1,153.7)[.5](2.185,153.7)[.5](2.185,150.1)[4.5](2.272,154.1)[.5](1.905,142.9)[2](1.991,137.5)[5.5](2.078,134.8)[4.8](2.164,142.9)[1.2](2.25,147.4)[.8](2.336,149.2)[.7](2.315,143.8)[1](2.422,145.6)[.9](2.573,147.4)[.9](2.25,139.3)[1.5](2.379,139.3)[1.2](2.509,142)[1](2.315,132.5)[2](2.509,133.9)[5.5](2.659,133.4)[1.5](2.444,127.6)[6](2.543,126.7)[.3](2.198,114.1)[6](2.336,107.4)[4.9]
(2.875,148.3)[6.7](3.026,133.9)[3](3.039,128.1)[2](2.897,141.1)[1](2.767,139.3)[2.4](3.047,142.9)[6](2.94,135.7)[5.5](3.177,164.9)[.4](3.069,163.1)[4.2](3.22,163.1)[.5](3.155,156.5)[.5](3.241,158.3)[.5](3.155,151.9)[.5](3.263,150.1)[.6](3.349,153.7)[6](3.414,157.4)[.5](3.534,164)[.3](3.586,158.3)[.6](3.5,155.5)[.5](3.435,150.1)[.7](3.198,145.6)[.7](3.112,139.3)[1.5](3.284,142.9)[5](3.414,142)[5.5](3.392,135.2)[6](3.543,141.1)[1.5](3.586,145.6)[.6](3.694,143.3)[5.9](3.694,152.3)[.6](3.802,152.8)[5.2](3.78,148.9)[4.2](3.935,147.8)[5.1]
(3.629,135.7)[2.5](3.737,138.4)[3.5](3.772,133.6)[6](3.716,129)[.4](3.802,127.6)[5.5](3.909,125.4)[6.5](4.082,125.4)[6.2](3.888,133)[1.2](3.974,137.5)[1](4.082,152)[.5](4.082,143.8)[.9](4.276,156.4)[.5](4.297,163.7)[1.7](4.297,151)[.5](4.34,145.6)[6.4](4.284,127.6)[6](4.328,132.5)[4.5](4.103,133.9)[2](4.211,138.4)[2.5](4.319,140.2)[3](4.448,137.5)[2.2](4.578,131.2)[1.9](4.534,141.1)[2.1](4.642,148.3)[.7](4.707,141.1)[2](4.728,135.7)[2.1](4.836,130.3)[2.2](4.922,145.6)[1.6](4.987,145.6)[1.7](4.922,138.4)[1.1](4.922,132.1)[1.2](4.836,136.6)[2](4.621,135.7)[3](4.47,133.9)[3]
(1.0,137)[1.8](1.12,136)[2](1.27,136)[1.5](1.3,140)[1](1.38,141)[.8](1.44,144)[.9](1.53,137)[2.2](1.6,138)[2](1.62,135)[2.6](1.7,137)[3](1.74,134)[5.4](1.82,135)[3.4](1.86,139)[2](1.9,134)[2.8](1.96,136)[3.2](2.03,133)[2.8](2.03,140)[1.6](2.12,136)[1.6](2.14,132)[5.5](2.2,138)[1.2](2.27,143)[1](2.28,135)[2.6](2.35,138)[1.4](2.4,142)[1](2.44,137)[1.5](2.47,133)[5.5](2.52,138)[2.2](2.58,140)[1.4](2.62,135)[5.5](2.72,137)[2](2.81,136)[2.4](2.85,138)[2](2.92,134)[1.8](2.98,139)[1.4](3.03,137)[1.9](3.08,134)[1.7](3.15,137)[2.4](3.18,141)[1.5](3.25,138)[4.8](3.3,135)[2](3.35,139)[5.4](3.45,138)[2.5](3.48,142)[.9](3.52,136)[1.5](3.6,139)[3](3.66,137)[3.4](3.7,133)[2.4](3.75,142)[3.5](3.82,134)[2.5](3.86,137)[3.4](3.92,130)[1.8](3.98,133)[2.4](4.02,139)[1.2](4.06,136)[.9](4.14,131)[1.6](4.18,136)[1.8](4.24,134)[1.2](4.3,137)[2.4](4.38,136)[2.8](4.42,140)[2.6](4.5,138)[2.2](4.55,135)[1.9](4.6,138)[2.4](4.65,134)[2](4.75,139)[2.2](4.8,133)[1.9](4.85,139)[1.9](4.9,135)[1.6]
(7.653,142)[5.2](7.761,143.8)[5](7.869,143.8)[2](7.739,137.5)[2.5](7.89,140.2)[6.2](7.739,133)[.4](7.847,133.9)[2.2](7.977,134.8)[3](7.696,130.3)[1.8](7.89,128.1)[.6](7.739,124)[.5](7.782,119.5)[.6](7.739,115)[.6](7.869,115)[.9](8.106,140.2)[1.6](8.063,134.8)[3](8.15,133.9)[3.4](8.15,124.9)[1](8.15,118.6)[.5](8.279,137.5)[3](8.387,136.6)[2.8](8.322,124)[3.5](8.344,117.1)[.2](8.409,130.3)[5.2](8.495,119.5)[1.2](8.482,113.2)[.5](8.539,129.4)[4.8](8.582,132.1)[5.5](8.625,126.7)[6.2](8.733,121.3)[6.3](8.755,116.8)[2](8.72,114.1)[.8](8.798,115)[1.2](8.832,129.9)[2.6](8.755,127.6)[4](8.884,125.1)[6](8.971,124)[5](8.884,113.2)[6](8.971,116.8)[3]
(9.144,124)[4.5](9.316,124.9)[2.2](9.36,121.3)[3](9.23,118.6)[5.3](9.446,116.8)[6](9.36,111.4)[2](9.252,105)[6.4](9.468,100)[6.6](9.36,103.3)[.3](9.446,106)[5.5](9.619,116.8)[2.8](9.554,109.6)[5.5](9.641,106.9)[5.5](9.727,110.5)[3.8](9.749,106)[6](9.857,110.5)[6.5](9.943,103.3)[3.4](10.073,100.6)[6.1](10.03,95.1)[5](10.181,98.8)[2.6](10.202,90.6)[6](10.31,96.9)[5.2](10.375,92.4)[4](10.483,90.6)[6](10.527,85.2)[5.3](10.635,87.9)[6.3](10.786,86.1)[4.2](10.44,78)[1.5](10.527,81.6)[3.2](10.635,78)[5](10.7,72.6)[4.6](10.764,76.2)[3](10.915,83.4)[4.4](11.023,82.5)[3.4](11.045,78)[5.5](10.894,67.6)[1.8](11.002,69)[.9](11.132,64.5)[1.8](11.175,70.8)[3.4](11.239,75.3)[6.4](11.283,63.9)[5.5](11.391,73.5)[4.4](11.542,63.6)[2.8](11.607,70.8)[3](11.736,71.5)[1.6](11.736,57.8)[1.8](11.887,57.8)[6.6](11.823,61.8)[6](12.017,60.5)[1.8](12.039,66.3)[6.5](11.887,48.8)[4.4](11.887,72.6)[6]
(11.045,123.1)[6](11.132,128.5)[6.3](11.067,126.7)[3](11.175,118.6)[3.8](11.132,113.2)[6](11.132,104.7)[6.2](11.023,97.3)[6.3](11.153,94.2)[6.4](11.283,92.1)[6.6](11.348,120.4)[2.8](11.477,121.3)[3](11.542,126.3)[4.4](11.369,115.9)[3.3](11.63,112.3)[3.8](11.477,107.8)[4.3](11.564,114.1)[1.8](11.564,103.3)[2.5](11.78,108.3)[.8](11.867,108.3)[1.2](11.801,102.4)[.5](11.909,97.9)[1.5](11.668,96.9)[1](12.03,111.9)[1](12.03,108.7)[.7](12.052,103.3)[1](12.181,102.4)[6](11.715,92.5)[6](11.78,95.1)[5.8](11.564,92.5)[.9](11.586,87.9)[.9](11.694,83.4)[.8](11.823,85.2)[.6](11.952,87.9)[1](11.361,86.1)[6](11.491,85.2)[6.1](11.491,80.9)[6](11.66,78)[6.2](11.768,79.8)[.8]
(11.875,128.5)[3](11.983,125.8)[3.8](12.048,123.1)[6](12.113,116.8)[6](12.237,126.7)[2.2](12.302,107.4)[3.6](12.324,103.3)[6.6](12.212,119.5)[3](12.363,114.1)[6](12.536,121.3)[6.5](12.536,114.1)[3.3](12.623,106.9)[3.8](12.536,109.6)[6.2](12.692,101.5)[6](12.579,96.9)[1](12.428,92.5)[6.4](12.324,83.4)[.7](12.216,79.8)[4.2](12.389,78)[3](12.579,86.1)[1.2](12.493,87)[1](12.666,79.8)[6](12.225,70.8)[1.5](12.389,76)[4.8](12.493,71.7)[4](12.579,70.8)[4.4](12.73,69.9)[4](12.264,67.2)[1.8](12.35,69)[1](12.579,65.4)[2.2]
(11.854,126.4)[3.2](12.007,125.7)[3.4](12.244,127)[2](12.125,126.4)[4.5](12.024,123)[6.6](12.108,123.7)[5.6](12.498,122.4)[5.5](12.363,120.3)[2.8](12.244,119)[5.3](12.041,117.7)[4.9](12.125,115.6)[6](12.329,116.3)[5.4](12.397,112.3)[6](12.515,115.6)[3.5](12.6,115)[3.2](12.681,113)[5.2](12.749,110.3)[6.5](12.803,106.9)[6](12.536,109.6)[4.2](12.519,106.2)[4.4](12.922,110.3)[4.9](13.007,106.2)[4.8](12.905,104.2)[2.5](13,102)[3.3](13.125,104.2)[5.2](12.312,106.9)[3.5](12.319,102.9)[6.6](12.142,102.2)[6.2](12.007,111.9)[.4](12.041,108.9)[.7](11.786,108.5)[1.3](12.041,103.6)[.6](11.803,102.2)[.8](11.922,102.2)[6](12.058,98.9)[1](11.888,98.2)[.6]
(12.685,101.6)[6](12.702,98.2)[6.1](12.786,97.5)[6.2](12.559,96.6)[.6](12.447,92.8)[6.4](13.176,98.9)[6.1](13.159,95.5)[6](12.973,94.2)[5.9](12.973,91.5)[1](13.041,92.2)[4.7](13.159,92.2)[3](13.278,91.5)[4.4](13.454,91.9)[6](13.159,88.8)[5.6](12.803,87.9)[5.7](12.685,86.5)[6.1](12.481,86.8)[.9](12.549,84.8)[1](12.176,89.2)[.8](12.312,87.5)[6](12.092,94.2)[5.7](11.956,92.2)[3.5](11.82,93.5)[5.9](12.092,86.8)[5.8](11.922,86.1)[.8](12.295,82.8)[.6](12.803,84.1)[2](13.237,84.1)[3](13.346,81.4)[4.9](13.498,82.8)[6.1](13.685,82.8)[6.2](13.261,78.7)[6](13.685,75.4)[6.2](13.397,73.4)[6](13.295,73.4)[3.6](13.522,72.7)[5](13.685,72)[6.6](13.685,67.7)[3.2](13.21,68)[2](13.502,66.7)[6](13.397,64.6)[6](13.431,62.6)[3.7](13.39,58.6)[6.7](13.193,62)[5.2](13.125,62.9)[4.4](12.973,59.3)[6.6](12.82,62)[.8](12.973,63.3)[2.8](12.973,66.7)[2.2](13.024,70.7)[1.5](12.99,76)[.4](12.905,80.1)[4.6](12.82,76)[3.8](12.854,72)[1](12.702,71.4)[4](12.6,73.4)[3.8](12.481,77.4)[3](12.397,78.7)[3.4](12.634,79.4)[6](12.549,65.3)[1.5](12.38,66)[1](12.244,68)[1.9](12.312,72)[.8](12.142,71.4)[6](12.227,74.7)[2](12.38,73.4)[3](12.481,69.3)[3.9](12.702,68)[3](12.82,66.7)[5.5](12.041,66)[6.2](12.024,60.6)[2.2](11.905,68)[1.8](11.922,72)[6](12.125,78.1)[4.4](12.017,82.8)[3.4](11.871,78.7)[2.6](11.769,75.4)[1.5](11.752,70.7)[3.4](11.736,57.9)[1.8](11.895,57.9)[6.4](11.837,64)[6](11.895,49.1)[4.2]
};
\end{axis}

\node[font=\fontsize{14.2}{17}\selectfont\serifbold\bfseries] at (231.75pt,14.75pt) {(a)};
\node[font=\fontsize{14.2}{17}\selectfont\serifbold\bfseries] at (754.75pt,14.75pt) {(b)};
\end{tikzpicture}
\end{document}
